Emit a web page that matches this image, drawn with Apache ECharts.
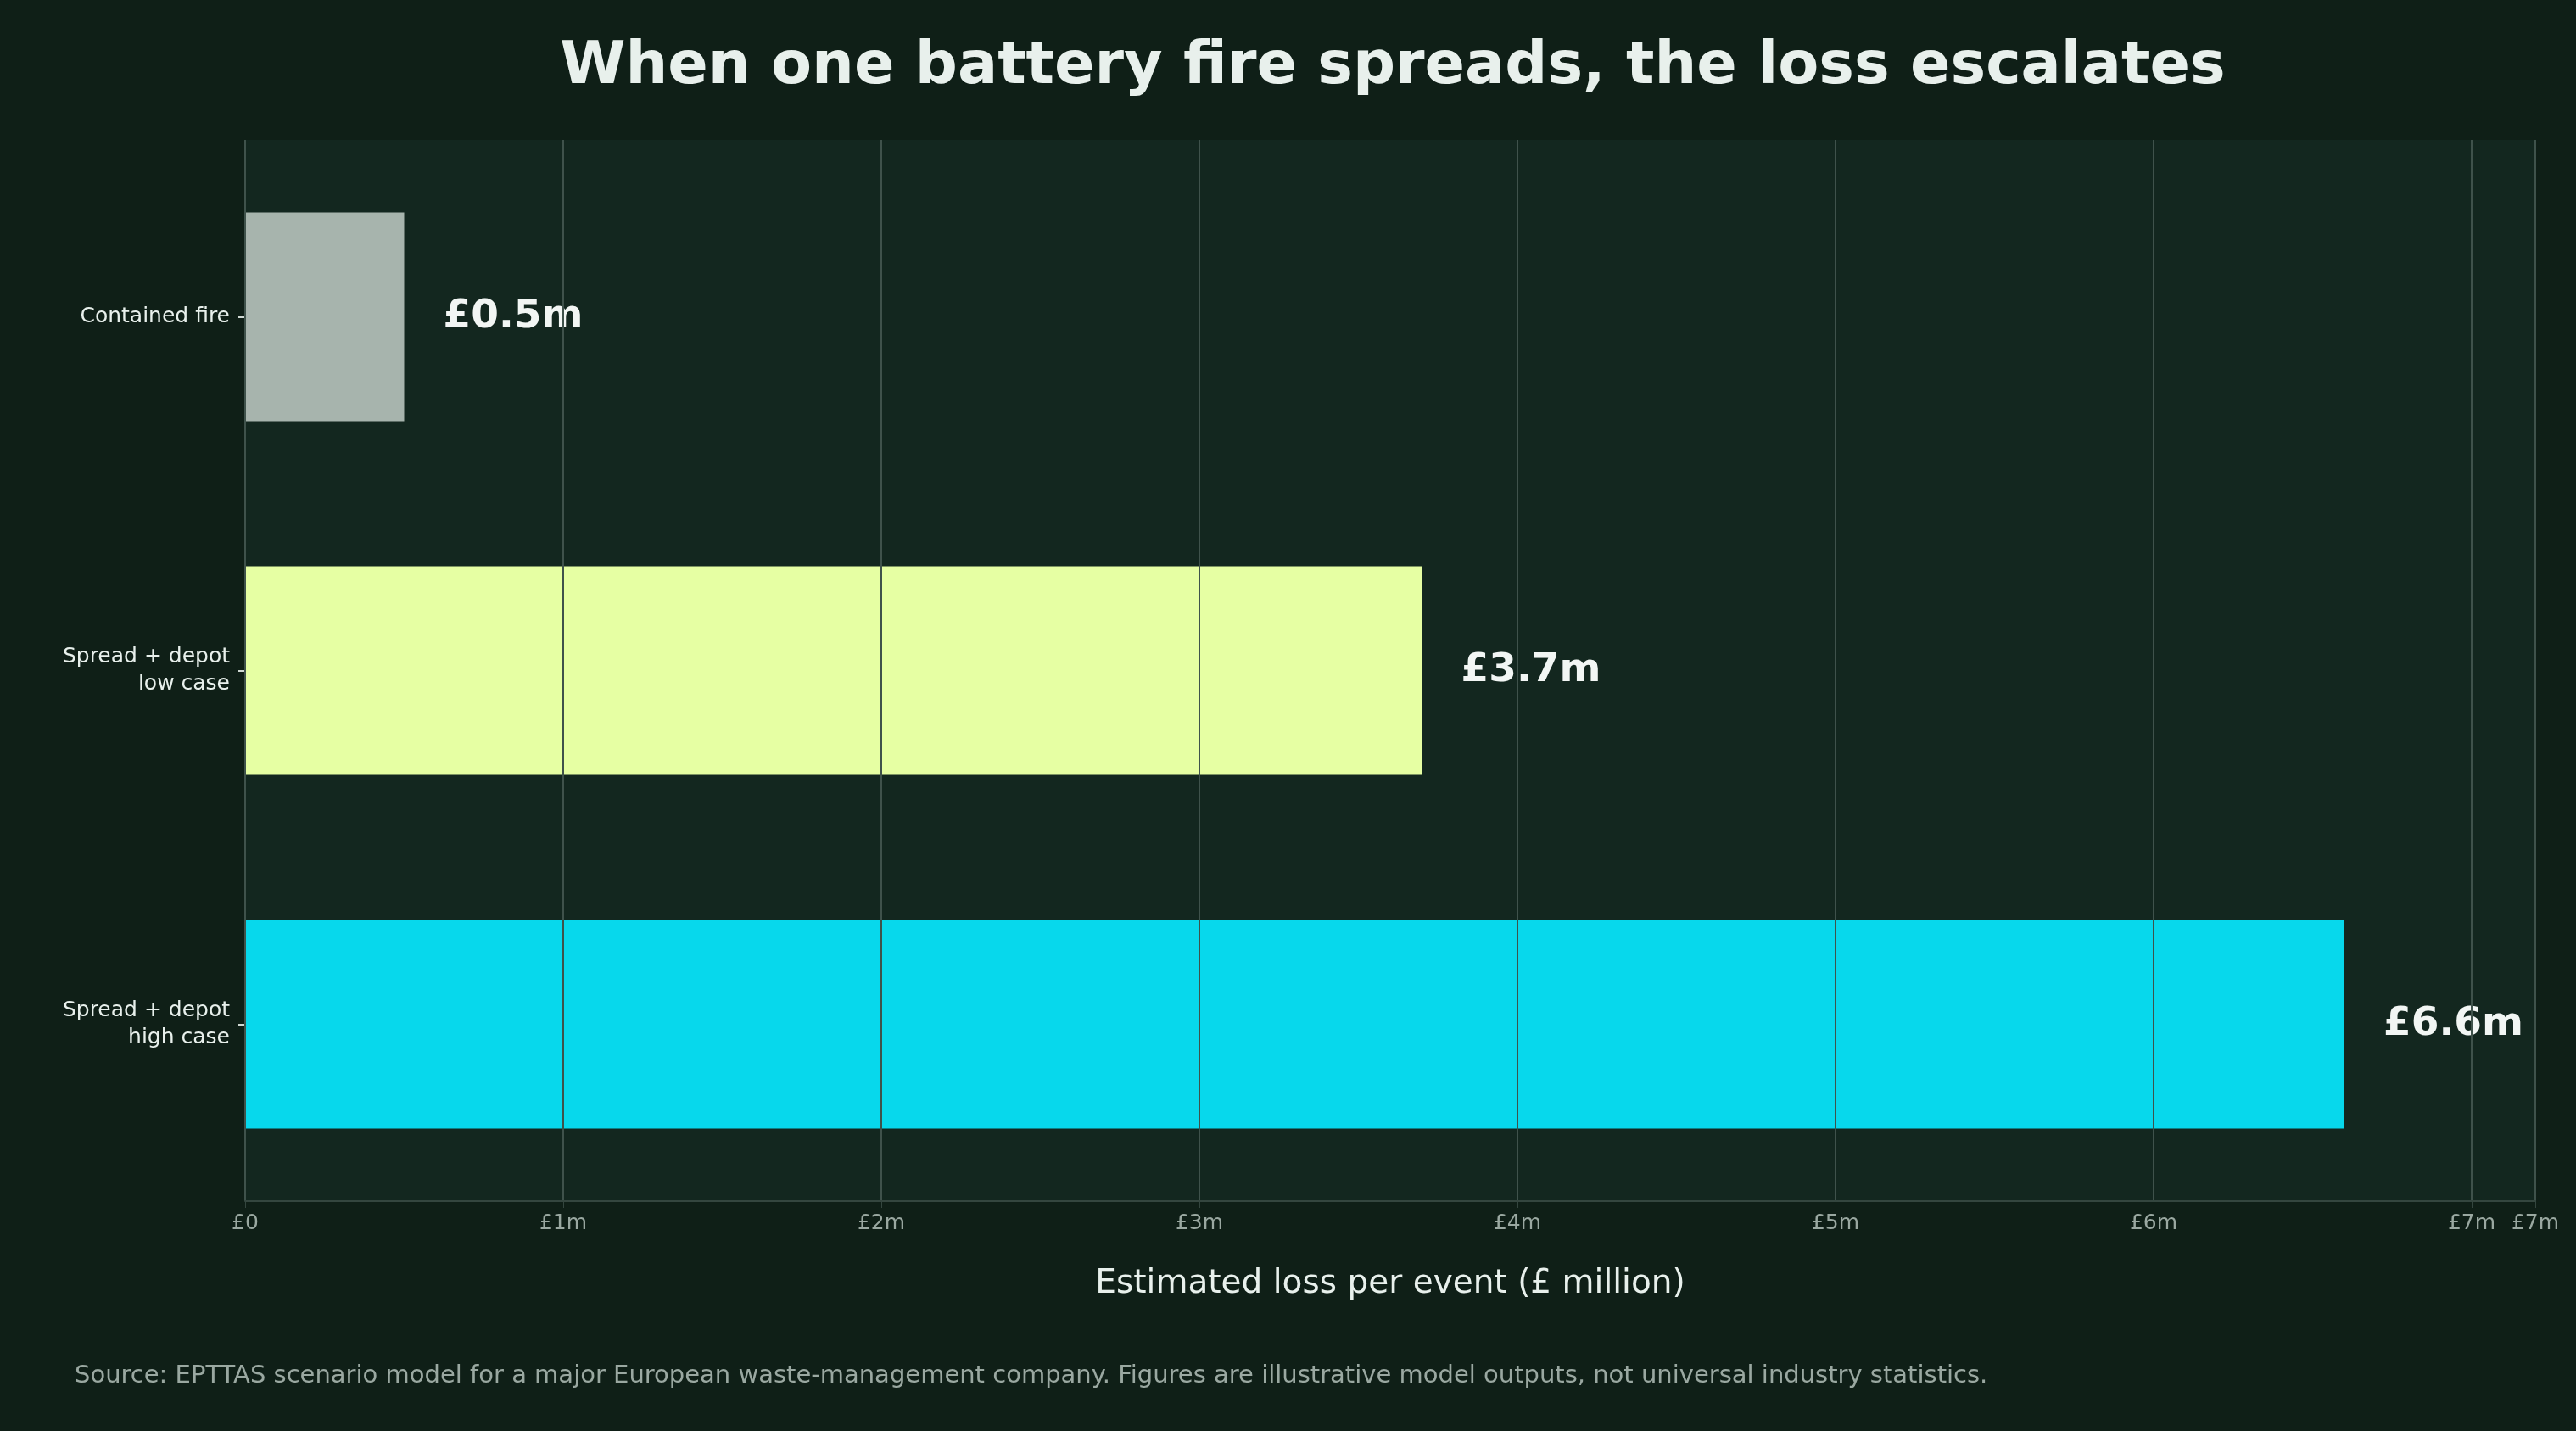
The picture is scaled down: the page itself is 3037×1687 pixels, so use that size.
<!DOCTYPE html>
<html><head><meta charset="utf-8">
<script src="https://cdn.jsdelivr.net/npm/echarts@6/dist/echarts.min.js"></script>
<style>html,body{margin:0;padding:0;background:#0f1f17;}#c{width:3037px;height:1687px;}</style>
</head><body><div id="c"></div>
<script>
const categories = ["Contained fire", "Spread + depot\nlow case", "Spread + depot\nhigh case"];
const values = [0.5, 3.7, 6.6];
const barColors = ["#a7b4ad", "#e6ffa3", "#07d8ec"];
const valueLabels = ["£0.5m", "£3.7m", "£6.6m"];
const tickLabels = ["£0", "£1m", "£2m", "£3m", "£4m", "£5m", "£6m", "£7m"];

const chart = echarts.init(document.getElementById('c'));
chart.setOption({
  backgroundColor: '#0f1f17',
  textStyle: {fontFamily: 'DejaVu Sans'},
  title: [{
    text: 'When one battery fire spreads, the loss escalates',
    left: 1637, top: 40, textAlign: 'center',
    textStyle: {color: '#e8f0ec', fontSize: 70, fontWeight: 'bold', fontFamily: 'DejaVu Sans'}
  },{
    text: 'Source: EPTTAS scenario model for a major European waste-management company. Figures are illustrative model outputs, not universal industry statistics.',
    left: 83, top: 1603,
    textStyle: {color: '#9aa8a1', fontSize: 29, fontWeight: 'normal', fontFamily: 'DejaVu Sans'}
  }],
  grid: {left: 289, right: 48, top: 165, bottom: 271, show: true, backgroundColor: '#13271f', borderWidth: 0},
  xAxis: {
    type: 'value', min: 0, max: 7.2, interval: 1, z: 5,
    name: 'Estimated loss per event (£ million)', nameLocation: 'middle', nameGap: 78,
    nameTextStyle: {color: '#e8f0ec', fontSize: 39},
    axisLine: {show: true, lineStyle: {color: '#34463f', width: 2}},
    axisTick: {show: true, length: 8, lineStyle: {color: '#34463f'}},
    axisLabel: {color: '#9aa8a1', fontSize: 25, margin: 14, formatter: v => tickLabels[Math.round(v)] ?? ''},
    splitLine: {show: true, lineStyle: {color: '#3f524b', width: 2}}
  },
  yAxis: {
    type: 'category', data: categories, inverse: true,
    axisLine: {show: false},
    axisTick: {show: true, length: 8, alignWithLabel: true, lineStyle: {color: '#cfd8d3', width: 2}},
    axisLabel: {color: '#e8f0ec', fontSize: 25, lineHeight: 32, margin: 18, align: 'right'},
    splitLine: {show: false}
  },
  series: [{
    type: 'bar', z: 2,
    data: values.map((v, i) => ({value: v, itemStyle: {color: barColors[i]}})),
    barCategoryGap: '41%',
    label: {show: true, position: 'right', distance: 46, color: '#f2f6f4', fontSize: 47, fontWeight: 'bold',
      formatter: p => valueLabels[p.dataIndex]}
  }]
});
</script></body></html>
